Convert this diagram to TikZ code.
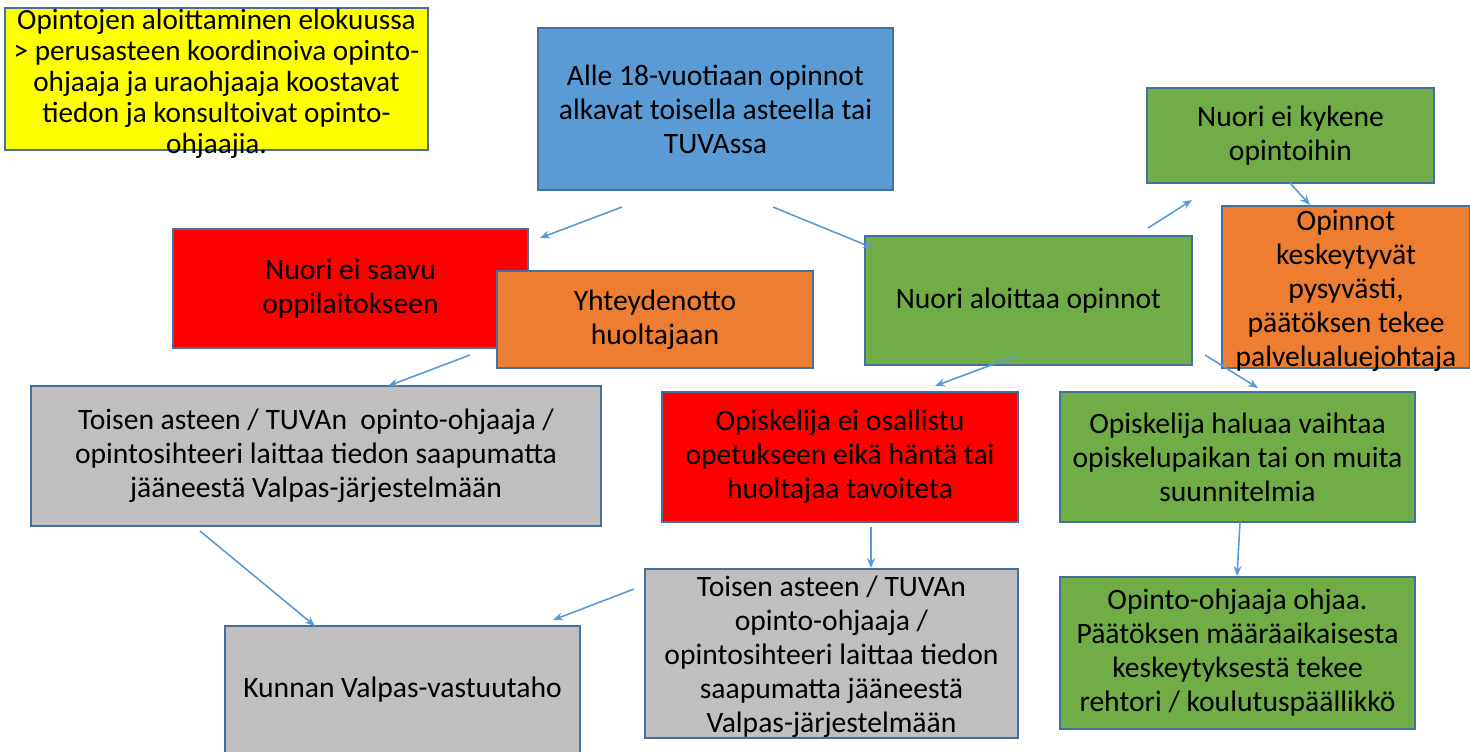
\documentclass[tikz,border=0pt]{standalone}
\usepackage{fontspec}
\setmainfont{Carlito}
\usetikzlibrary{arrows.meta}
\definecolor{cyel}{HTML}{FFFF00}
\definecolor{cblue}{HTML}{5B9BD5}
\definecolor{cred}{HTML}{FF0000}
\definecolor{corange}{HTML}{ED7D31}
\definecolor{cgreen}{HTML}{70AD47}
\definecolor{cgray}{HTML}{BFBFBF}
\definecolor{cborder}{HTML}{41719C}
\definecolor{carrow}{HTML}{5B9BD5}
\begin{document}
\begin{tikzpicture}[x=0.5pt,y=-0.5pt,
  box/.style={draw=cborder, line width=0.6pt, inner sep=0pt, align=center,
    font=\fontsize{14.8}{17}\selectfont, anchor=center},
  arr/.style={draw=carrow, line width=0.8pt, -{Stealth[length=5pt,width=4pt]}}]
\useasboundingbox (0,0) rectangle (1470,751);
% boxes
\node[box, fill=cyel, minimum width=211.5pt, minimum height=71pt] (yel) at (216.5,79)
  {};
\node[font=\fontsize{14.6}{15.5}\selectfont, align=center, inner sep=0pt] (yeltext) at (216.5,84)
  {Opintojen aloittaminen elokuussa\\ {>} perusasteen koordinoiva opinto-\\ ohjaaja ja uraohjaaja koostavat\\ tiedon ja konsultoivat opinto-\\ ohjaajia.};
\node[box, fill=cblue, minimum width=177.5pt, minimum height=81pt] (start) at (715.5,109)
  {Alle 18-vuotiaan opinnot\\ alkavat toisella asteella tai\\ TUVAssa};
\node[box, fill=cred, minimum width=177.5pt, minimum height=59.5pt] (red1) at (350.5,288.5)
  {Nuori ei saavu\\ oppilaitokseen};
\node[box, fill=corange, minimum width=158pt, minimum height=48.5pt] (yht) at (655,319.5)
  {Yhteydenotto\\ huoltajaan};
\node[box, fill=cgreen, minimum width=163.5pt, minimum height=64.5pt] (alo) at (1028.5,300.5)
  {Nuori aloittaa opinnot};
\node[box, fill=cgreen, minimum width=143.5pt, minimum height=47.5pt] (kyk) at (1290.5,135.5)
  {Nuori ei kykene\\ opintoihin};
\node[box, fill=corange, minimum width=124pt, minimum height=81pt] (kesk) at (1346,287)
  {};
\node[font=\fontsize{14.8}{17}\selectfont, align=center, inner sep=0pt] (kesktext) at (1346,291)
  {Opinnot\\ keskeytyvät\\ pysyvästi,\\ päätöksen tekee\\ palvelualuejohtaja};
\node[box, fill=cgray, minimum width=285pt, minimum height=70pt] (gray1) at (316,456)
  {Toisen asteen / TUVAn\ \ opinto-ohjaaja /\\ opintosihteeri laittaa tiedon saapumatta\\ jääneestä Valpas-järjestelmään};
\node[box, fill=cred, minimum width=178pt, minimum height=65pt] (red2) at (840,457)
  {Opiskelija ei osallistu\\ opetukseen eikä häntä tai\\ huoltajaa tavoiteta};
\node[box, fill=cgreen, minimum width=177.5pt, minimum height=65pt] (hal) at (1237.5,457)
  {Opiskelija haluaa vaihtaa\\ opiskelupaikan tai on muita\\ suunnitelmia};
\node[box, fill=cgray, minimum width=177.5pt, minimum height=67pt] (kun) at (402.5,693)
  {};
\node[font=\fontsize{14.8}{17}\selectfont] (kuntext) at (402.5,690) {Kunnan Valpas-vastuutaho};
\node[box, fill=cgray, minimum width=186.5pt, minimum height=84.5pt] (gray2) at (831.5,653.5)
  {};
\node[font=\fontsize{14.8}{17}\selectfont, align=center, inner sep=0pt] (gray2text) at (831.5,657)
  {Toisen asteen / TUVAn\\ opinto-ohjaaja /\\ opintosihteeri laittaa tiedon\\ saapumatta jääneestä\\ Valpas-järjestelmään};
\node[box, fill=cgreen, minimum width=177.5pt, minimum height=76pt] (ohj) at (1237.5,653)
  {Opinto-ohjaaja ohjaa.\\ Päätöksen määräaikaisesta\\ keskeytyksestä tekee\\ rehtori / koulutuspäällikkö};
% connector end points
\coordinate (a1) at (622,207); \coordinate (a2) at (540,238);
\coordinate (b1) at (773,207); \coordinate (b2) at (873,248);
\coordinate (c1) at (1148,228); \coordinate (c2) at (1192,200);
\coordinate (d1) at (1290,183); \coordinate (d2) at (1310,205);
\coordinate (e1) at (470,355); \coordinate (e2) at (388,386);
\coordinate (f1) at (1018,355); \coordinate (f2) at (935,386);
\coordinate (g1) at (1205,355); \coordinate (g2) at (1258,388);
\coordinate (h1) at (200,531); \coordinate (h2) at (315,626);
\coordinate (i1) at (871,527); \coordinate (i2) at (871,568);
\coordinate (j1) at (1240,522); \coordinate (j2) at (1237,576);
\coordinate (k1) at (634,589); \coordinate (k2) at (553,620);
\draw[arr] (a1) -- (a2);
\draw[arr] (b1) -- (b2);
\draw[arr] (c1) -- (c2);
\draw[arr] (d1) -- (d2);
\draw[arr] (e1) -- (e2);
\draw[arr] (f1) -- (f2);
\draw[arr] (g1) -- (g2);
\draw[arr] (h1) -- (h2);
\draw[arr] (i1) -- (i2);
\draw[arr] (j1) -- (j2);
\draw[arr] (k1) -- (k2);
\end{tikzpicture}
\end{document}
